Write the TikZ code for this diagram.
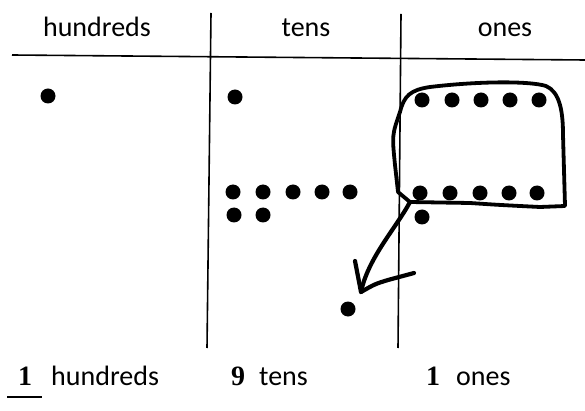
\documentclass[tikz,border=0pt]{standalone}
\usepackage{fontspec}
\setmainfont{Carlito}
\newfontfamily\digitfont{Liberation Serif}
\begin{document}
\begin{tikzpicture}[x=1pt,y=-1pt,
  dot/.style={circle,fill=black,inner sep=0pt,minimum size=15pt},
  gridline/.style={line width=1.6pt,black},
  hand/.style={line width=3.8pt,black,line join=round,line cap=round},
  head/.style={font=\fontsize{28}{32}\selectfont,anchor=base,inner sep=0pt},
  word/.style={font=\fontsize{28}{32}\selectfont,anchor=base west,inner sep=0pt},
  digit/.style={font=\digitfont\bfseries\fontsize{28}{32}\selectfont,anchor=base,inner sep=0pt}]
\useasboundingbox (0,0) rectangle (585,411);
% grid
\coordinate (hl) at (12,55);
\coordinate (hr) at (585,60);
\coordinate (v1t) at (211,13);
\coordinate (v1b) at (207,348);
\coordinate (v2t) at (401,14);
\coordinate (v2b) at (398,348);
\draw[gridline] (hl) -- (hr);
\draw[gridline] (v1t) -- (v1b);
\draw[gridline] (v2t) -- (v2b);
% headers
\node[head] (hH) at (97,37) {hundreds};
\node[head] (hT) at (306,37) {tens};
\node[head] (hO) at (505,37) {ones};
% dots
\node[dot] (d1) at (48,96) {};
\node[dot] (t0) at (235,97) {};
\foreach \x [count=\i] in {233,263,293,322,350}
  \node[dot] (ta\i) at (\x,192) {};
\node[dot] (tb1) at (234,215) {};
\node[dot] (tb2) at (263,215) {};
\foreach \x [count=\i] in {422,452,481,510,539}
  \node[dot] (oa\i) at (\x,100) {};
\foreach \x [count=\i] in {420,450,480,509,537}
  \node[dot] (ob\i) at (\x,193) {};
\node[dot] (oc) at (422,217) {};
\node[dot] (bd) at (348,309) {};
% loop around ten ones
\coordinate (lp) at (410,202);
\draw[hand] (lp) -- (398,192) -- (395,165) .. controls (392,135) .. (400,112)
  .. controls (404,96) and (410,90) .. (430,87)
  .. controls (480,81) and (530,81) .. (546,86)
  .. controls (560,92) and (563,112) .. (563,135)
  -- (565,206) -- (540,207) .. controls (500,205) .. (470,203) -- (lp);
% arrow
\coordinate (at) at (361,292);
\draw[hand,line width=4.2pt] (lp) .. controls (396,228) and (368,258) .. (at);
\draw[hand,line width=4.2pt] (355,261) -- (at) .. controls (375,284) .. (388,280) -- (414,273);
% bottom labels
\node[digit] (n1) at (25,385) {1};
\coordinate (u1) at (7,397);
\coordinate (u2) at (42,397);
\draw[line width=1.2pt] (u1) -- (u2);
\node[word] (w1) at (51,385) {hundreds};
\node[digit] (n2) at (238,385) {9};
\node[word] (w2) at (259,385) {tens};
\node[digit] (n3) at (433,385) {1};
\node[word] (w3) at (456,385) {ones};
\end{tikzpicture}
\end{document}
